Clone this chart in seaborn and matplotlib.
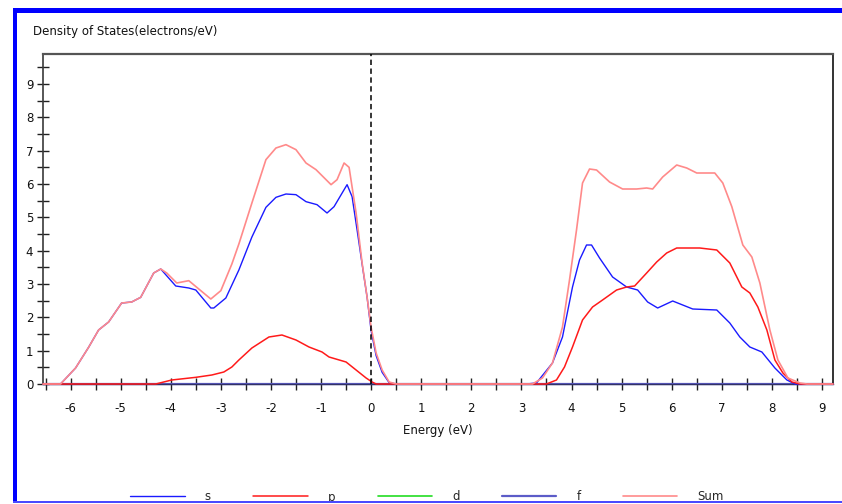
import matplotlib
matplotlib.use("Agg")
import numpy as np
import pandas as pd
import seaborn as sns
import matplotlib.pyplot as plt
from matplotlib.patches import Rectangle
from matplotlib.ticker import MultipleLocator

# ---------------- data ----------------
sum_energy = [-6.55, -6.2, -5.9, -5.64, -5.44, -5.24, -4.98, -4.78, -4.6, -4.34, -4.2, -4.08,
              -3.88, -3.64, -3.48, -3.2, -3.0, -2.78, -2.64, -2.38, -2.1, -1.9, -1.7, -1.5,
              -1.3, -1.1, -0.8, -0.68, -0.54, -0.44, -0.3, -0.18, -0.08, 0.0, 0.1, 0.22, 0.36,
              0.5, 3.22, 3.42, 3.62, 3.82, 3.96, 4.1, 4.22, 4.36, 4.5, 4.76, 5.02, 5.3, 5.5,
              5.62, 5.82, 6.1, 6.3, 6.5, 6.86, 7.02, 7.2, 7.42, 7.6, 7.76, 7.96, 8.12, 8.32,
              8.56, 8.7, 9.22]
sum_dos = [0, 0, 0.48, 1.1, 1.62, 1.86, 2.43, 2.46, 2.6, 3.33, 3.45, 3.33,
           3.03, 3.1, 2.9, 2.55, 2.8, 3.6, 4.2, 5.43, 6.73, 7.08, 7.18, 7.03,
           6.63, 6.43, 5.98, 6.13, 6.63, 6.5, 5.13, 3.63, 2.6, 1.7, 0.93, 0.42, 0.06,
           0, 0, 0.18, 0.63, 1.71, 3.12, 4.62, 6.03, 6.45, 6.42, 6.06, 5.85, 5.85, 5.88,
           5.85, 6.21, 6.57, 6.48, 6.33, 6.33, 6.03, 5.32, 4.17, 3.81, 3.03, 1.62, 0.72, 0.18,
           0.03, 0, 0]

s_energy = [-6.55, -6.2, -5.9, -5.64, -5.44, -5.24, -4.98, -4.78, -4.6, -4.34, -4.2, -3.9,
            -3.64, -3.5, -3.2, -3.14, -2.9, -2.64, -2.38, -2.1, -1.9, -1.7, -1.5, -1.3,
            -1.08, -0.88, -0.74, -0.48, -0.38, -0.28, -0.18, -0.08, 0.0, 0.1, 0.22, 0.36,
            0.5, 3.1, 3.3, 3.62, 3.82, 4.02, 4.16, 4.3, 4.4, 4.56, 4.82, 5.1, 5.32, 5.52,
            5.72, 6.02, 6.42, 6.9, 7.16, 7.36, 7.56, 7.8, 8.06, 8.3, 8.46, 9.22]
s_dos = [0, 0, 0.48, 1.1, 1.62, 1.86, 2.43, 2.46, 2.6, 3.33, 3.45, 2.94,
         2.88, 2.82, 2.28, 2.28, 2.58, 3.42, 4.41, 5.3, 5.6, 5.7, 5.68, 5.47,
         5.38, 5.13, 5.32, 5.98, 5.62, 4.62, 3.6, 2.6, 1.6, 0.85, 0.35, 0.04,
         0, 0, 0.03, 0.63, 1.41, 2.91, 3.72, 4.17, 4.17, 3.78, 3.21, 2.91, 2.82, 2.46,
         2.28, 2.49, 2.25, 2.22, 1.83, 1.41, 1.11, 0.96, 0.48, 0.12, 0, 0]

p_energy = [-6.55, -4.3, -3.98, -3.5, -3.18, -2.94, -2.78, -2.64, -2.38, -2.04, -1.78, -1.5,
            -1.24, -0.98, -0.84, -0.5, -0.3, -0.1, 0.02, 0.1, 3.5, 3.7, 3.86, 4.02, 4.22,
            4.42, 4.62, 4.9, 5.1, 5.26, 5.5, 5.7, 5.9, 6.1, 6.56, 6.9, 7.16, 7.4, 7.56,
            7.72, 7.9, 8.06, 8.22, 8.4, 8.56, 9.22]
p_dos = [0, 0, 0.12, 0.2, 0.27, 0.36, 0.51, 0.72, 1.08, 1.41, 1.47, 1.32,
         1.11, 0.96, 0.81, 0.66, 0.42, 0.18, 0.06, 0, 0, 0.12, 0.51, 1.11, 1.92,
         2.31, 2.52, 2.82, 2.91, 2.94, 3.33, 3.66, 3.93, 4.08, 4.08, 4.02, 3.63, 2.91, 2.73,
         2.31, 1.62, 0.72, 0.33, 0.06, 0, 0]

d_energy = [-6.55, 9.22]
d_dos = [0, 0]
f_energy = [-6.55, 9.22]
f_dos = [0, 0]

x_ticks = [-6, -5, -4, -3, -2, -1, 0, 1, 2, 3, 4, 5, 6, 7, 8, 9]
y_ticks = [0, 1, 2, 3, 4, 5, 6, 7, 8, 9]
series_names = ["s", "p", "d", "f", "Sum"]

# ---------------- style ----------------
sns.set_theme(style="white")
plt.rcParams['font.family'] = ['DejaVu Sans']
plt.rcParams['axes.unicode_minus'] = False
FS = 8.5

W, H = 842, 504
fig = plt.figure(figsize=(W / 100, H / 100), dpi=100)
fig.patch.set_facecolor("white")
ax = fig.add_axes([43 / W, 1 - 384 / H, (833 - 43) / W, (384 - 54) / H])
ax.set_facecolor("white")

colors = {"s": "#1a1aff", "p": "#ff1a1a", "d": "#22dd22", "f": "#5c5cc8", "Sum": "#ff8a8a"}
widths = {"s": 1.0, "p": 1.1, "d": 1.2, "f": 1.6, "Sum": 1.2}
zorders = {"d": 2, "f": 2.5, "s": 3, "p": 4, "Sum": 5}
data = {"s": (s_energy, s_dos), "p": (p_energy, p_dos), "d": (d_energy, d_dos),
        "f": (f_energy, f_dos), "Sum": (sum_energy, sum_dos)}

for name in series_names:
    e, v = data[name]
    df = pd.DataFrame({"Energy": e, "DOS": v})
    sns.lineplot(data=df, x="Energy", y="DOS", ax=ax, color=colors[name],
                 linewidth=widths[name], estimator=None, sort=False, label=name,
                 zorder=zorders[name], clip_on=False)

ax.axvline(0, color="black", linestyle=(0, (3.5, 2.3)), linewidth=1.1, zorder=6)

ax.set_xlim(-6.55, 9.22)
ax.set_ylim(0, 9.9)
ax.set_xticks(x_ticks)
ax.set_xticklabels([str(t) for t in x_ticks])
ax.set_yticks(y_ticks)
ax.set_yticklabels([str(t) for t in y_ticks])
ax.xaxis.set_minor_locator(MultipleLocator(0.5))
ax.yaxis.set_minor_locator(MultipleLocator(0.5))
ax.tick_params(which="both", direction="inout", length=8, width=1.0, color="#202020",
               bottom=True, left=True, top=False, right=False)
ax.tick_params(axis="x", which="both", pad=9, labelsize=FS, labelcolor="#111111")
ax.tick_params(axis="y", which="both", pad=3, labelsize=FS, labelcolor="#111111")

ax.set_xlabel("Energy (eV)", fontsize=FS, color="#111111")
ax.xaxis.set_label_coords(0.5, -0.122)
ax.set_ylabel("")

for side, col, lw in [("left", "#3a3a3a", 1.2), ("top", "#555555", 1.6),
                      ("right", "#111111", 1.2), ("bottom", "#333366", 1.0)]:
    ax.spines[side].set_visible(True)
    ax.spines[side].set_color(col)
    ax.spines[side].set_linewidth(lw)

fig.text(33 / W, 1 - 31 / H, "Density of States(electrons/eV)", fontsize=FS,
         ha="left", va="center", color="#111111")

handles, labels = ax.get_legend_handles_labels()
ax.get_legend().remove()
fig.legend(handles, labels, ncol=5, loc="center", bbox_to_anchor=(427 / W, 1 - 497 / H),
           frameon=False, fontsize=FS, handlelength=4.6, handletextpad=1.7,
           columnspacing=3.6, borderpad=0)

# blue window frame
fig.patches.append(Rectangle((13 / W, 0), 4 / W, (H - 8) / H, transform=fig.transFigure,
                             facecolor="#0000ff", edgecolor="none", zorder=10))
fig.patches.append(Rectangle((13 / W, 1 - 13 / H), (W - 13) / W, 5 / H, transform=fig.transFigure,
                             facecolor="#0000ff", edgecolor="none", zorder=10))
fig.patches.append(Rectangle((13 / W, 0), (W - 13) / W, 1.5 / H, transform=fig.transFigure,
                             facecolor="white", edgecolor="none", zorder=10))
fig.patches.append(Rectangle((13 / W, 1.5 / H), (W - 13) / W, 1.2 / H, transform=fig.transFigure,
                             facecolor="#4a4aff", edgecolor="none", zorder=10))

fig.savefig("out.png", dpi=100, facecolor="white")
